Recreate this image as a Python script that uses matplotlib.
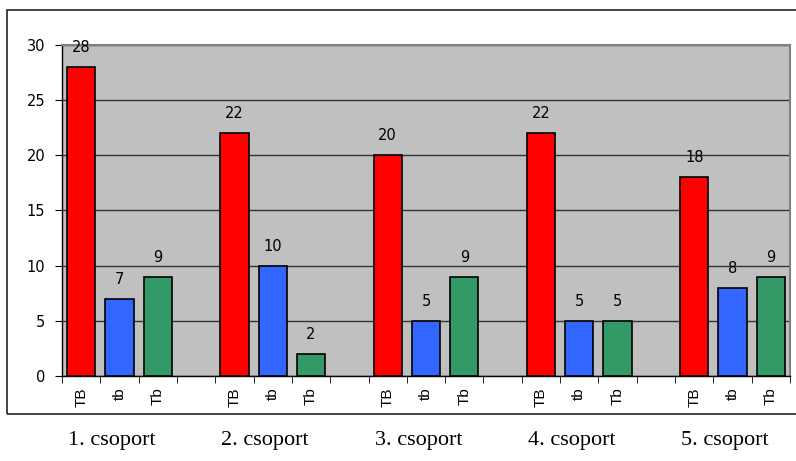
import matplotlib
matplotlib.use("Agg")
import matplotlib.pyplot as plt
from matplotlib.patches import Rectangle
import matplotlib.transforms as mtransforms

groups = ["1. csoport", "2. csoport", "3. csoport", "4. csoport", "5. csoport"]
series_labels = ["TB", "tb", "Tb"]
tb_upper = [28, 22, 20, 22, 18]
tb_lower = [7, 10, 5, 5, 8]
tb_mixed = [9, 2, 9, 5, 9]
colors = ["#FF0000", "#3366FF", "#339966"]
y_ticks = [0, 5, 10, 15, 20, 25, 30]

W, H = 796, 461
fig = plt.figure(figsize=(W / 100, H / 100), dpi=100)
fig.patch.set_facecolor("white")

# outer chart box
fig.patches.append(Rectangle((7 / W, 1 - 414 / H), (800 - 7) / W, (414 - 10) / H,
                             transform=fig.transFigure, fill=False,
                             edgecolor="#222222", linewidth=1.2))

left, right, top, bottom = 62, 790, 45, 376
ax = fig.add_axes([left / W, 1 - bottom / H, (right - left) / W, (bottom - top) / H])
ax.set_facecolor("#C0C0C0")

num_font = dict(family="DejaVu Sans", fontsize=10.5)

values = [tb_upper, tb_lower, tb_mixed]
n_cat = len(groups) * 4 - 1
xlabels = [""] * n_cat
for g in range(len(groups)):
    for s in range(3):
        pos = g * 4 + s
        v = values[s][g]
        ax.bar(pos, v, width=0.74, color=colors[s], edgecolor="black", linewidth=1.2, zorder=3)
        ax.text(pos, v + 1.1, str(v), ha="center", va="bottom", zorder=4, **num_font)
        xlabels[pos] = series_labels[s]

ax.set_xlim(-0.5, n_cat - 0.5)
ax.set_ylim(0, 30)
ax.set_yticks(y_ticks)
ax.set_yticklabels([str(t) for t in y_ticks], **num_font)
ax.yaxis.grid(True, color="#333333", linewidth=1.0, zorder=1)
ax.set_axisbelow(True)

# category labels at centers, tick marks at boundaries
ax.set_xticks(range(n_cat))
ax.set_xticklabels(xlabels, rotation=90, family="Liberation Sans", fontsize=11)
ax.tick_params(axis="x", which="major", length=0, pad=8)
ax.set_xticks([i - 0.5 for i in range(n_cat + 1)], minor=True)
ax.tick_params(axis="x", which="minor", length=5, color="black")
ax.tick_params(axis="y", length=5, color="black", pad=7)

for side in ["top", "right"]:
    ax.spines[side].set_color("#808080")
    ax.spines[side].set_linewidth(1.5)
for side in ["left", "bottom"]:
    ax.spines[side].set_color("black")
    ax.spines[side].set_linewidth(1.0)

trans = mtransforms.blended_transform_factory(ax.transData, fig.transFigure)
for g, name in enumerate(groups):
    ax.text(g * 4 + 1 - 0.2, 1 - 440 / H, name, transform=trans, ha="center", va="center",
            fontsize=16, family="Liberation Serif")

fig.savefig("out.png", dpi=100, facecolor="white")
